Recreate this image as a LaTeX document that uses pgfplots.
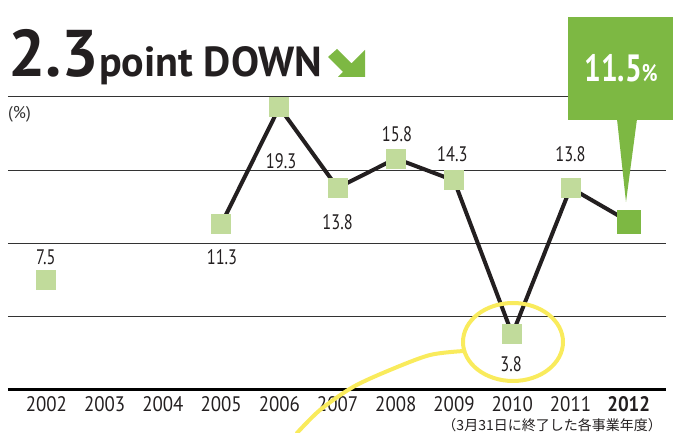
\documentclass[border=0pt]{standalone}
\usepackage{pgfplots}
\pgfplotsset{compat=1.18}
\usepackage{fontspec}
\setmainfont{PT Sans}
\newfontfamily\labfont[FakeStretch=0.78]{PT Sans}
\newfontfamily\tickfont[FakeStretch=0.9]{PT Sans}
\newfontfamily\jpfont{Noto Sans CJK JP}
\definecolor{textc}{HTML}{231F20}
\definecolor{gridc}{HTML}{333333}
\definecolor{dgreen}{HTML}{7DB843}
\definecolor{lgreen}{HTML}{C1DB9B}
\definecolor{hyellow}{HTML}{F9EB5C}
\begin{document}
\begin{tikzpicture}
\begin{axis}[
  at={(8pt,43pt)}, anchor=south west, scale only axis,
  width=658pt, height=293pt,
  xmin=-0.66, xmax=10.64, ymin=0, ymax=20,
  axis line style={draw=none},
  ytick={5,10,15,20}, yticklabels={},
  ymajorgrids, major grid style={color=gridc, line width=1pt},
  extra y ticks={0}, extra y tick labels={},
  extra y tick style={major grid style={color=black, line width=3pt}},
  xtick={0,1,2,3,4,5,6,7,8,9,10},
  xticklabels={2002,2003,2004,2005,2006,2007,2008,2009,2010,2011,{\bfseries 2012}},
  major tick length=0pt,
  xticklabel style={anchor=base, yshift=-22pt, font=\tickfont\fontsize{21}{21}\selectfont, text=textc},
  clip=false,
]
% connecting line 2005-2012
\addplot[color=textc, line width=4pt, no markers] coordinates {
  (3,11.3) (4,19.3) (5,13.8) (6,15.8) (7,14.3) (8,3.8) (9,13.8) (10,11.5)
};
% light markers 2002-2011
\addplot[only marks, mark=square*, mark size=9.5pt, color=lgreen, mark options={fill=lgreen, draw=lgreen, line width=0pt}] coordinates {
  (0,7.5) (3,11.3) (4,19.3) (5,13.8) (6,15.8) (7,14.3) (8,3.8) (9,13.8)
};
% 2012 marker
\addplot[only marks, mark=square*, mark size=11.5pt, color=dgreen, mark options={fill=dgreen, draw=dgreen, line width=0pt}] coordinates {
  (10,11.5)
};
% value labels
\begin{scope}[every node/.style={font=\labfont\fontsize{21}{21}\selectfont, text=textc, inner sep=0pt}]
\node at (axis cs:-0.01,9.08) {7.5};
\node at (axis cs:3.015,9.04) {11.3};
\node at (axis cs:4.03,15.6) {19.3};
\node at (axis cs:5.0,11.43) {13.8};
\node at (axis cs:6.02,17.47) {15.8};
\node at (axis cs:6.97,16.08) {14.3};
\node at (axis cs:7.98,1.74) {3.8};
\node at (axis cs:9.0,16.08) {13.8};
\end{scope}
\end{axis}
% title
\node[anchor=base west, inner sep=0pt, text=textc] at (8pt,356pt)
  {{\fontsize{66}{66}\selectfont\bfseries 2.3}{\fontsize{42}{42}\selectfont\bfseries point DOWN}};
\fill[dgreen] (328pt,376pt) -- (337pt,384pt) -- (351.5pt,369.5pt) -- (365pt,383pt) -- (365pt,356pt) -- (338pt,356pt) -- (343pt,361pt) -- cycle;
% unit
\node[anchor=west, inner sep=0pt, text=gridc, font=\fontsize{17}{17}\selectfont] at (8pt,319pt) {(\%)};
% callout
\fill[dgreen] (568pt,313pt) rectangle (673pt,416pt);
\fill[dgreen] (617pt,314pt) -- (626pt,231pt) -- (637pt,314pt) -- cycle;
\node[anchor=base west, inner sep=0pt, text=white, font=\labfont\bfseries] at (584pt,351pt)
  {{\fontsize{38}{38}\selectfont 11.5}{\fontsize{24}{24}\selectfont\%}};
% note
\node[anchor=south east, inner sep=0pt, text=textc, font=\jpfont\fontsize{14}{14}\selectfont] at (662pt,1pt)
  {（3月31日に終了した各事業年度）};
% yellow highlight
\draw[hyellow, line width=4pt] (513pt,91pt) ellipse [x radius=50pt, y radius=39pt];
\draw[hyellow, line width=4pt, line cap=round] plot[smooth] coordinates {(464pt,82pt) (430pt,78pt) (390pt,63pt) (353pt,46pt) (320pt,23pt) (297pt,0pt)};
\pgfresetboundingbox
\useasboundingbox (0pt,0pt) rectangle (673pt,433pt);
\end{tikzpicture}
\end{document}
